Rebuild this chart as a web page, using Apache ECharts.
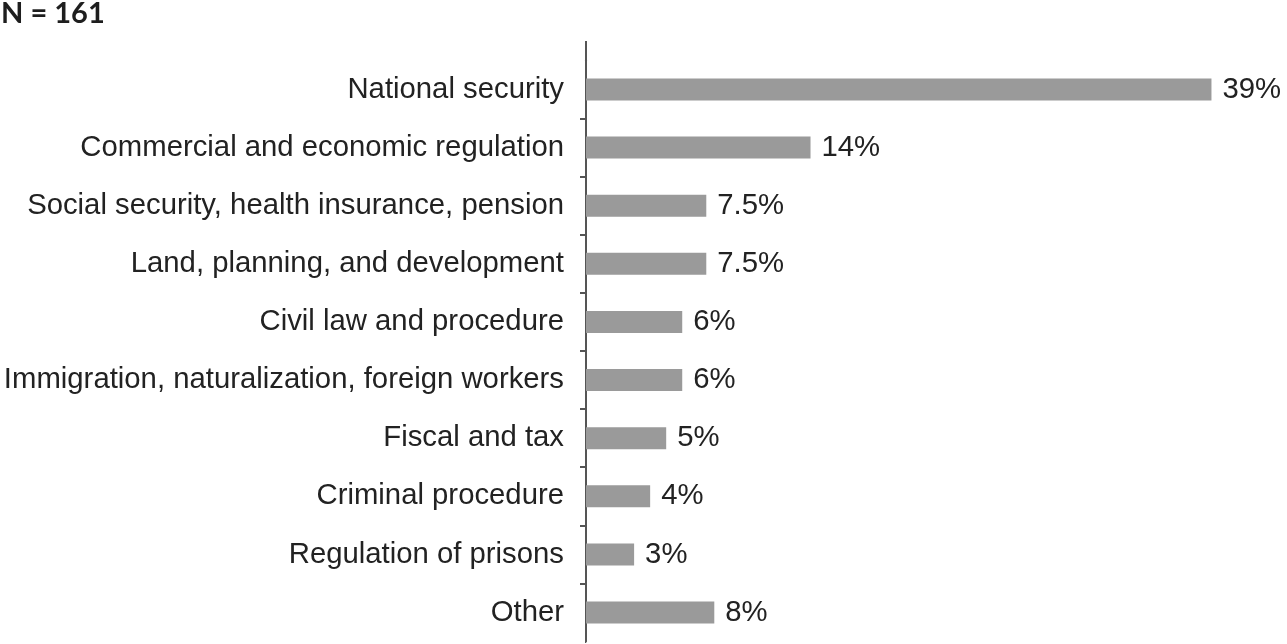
<!DOCTYPE html>
<html>
<head>
<meta charset="utf-8">
<script src="https://cdn.jsdelivr.net/npm/echarts@6/dist/echarts.min.js"></script>
<style>
html,body{margin:0;padding:0;background:#fff;}
#main{width:1287px;height:644px;}
</style>
</head>
<body>
<div id="main"></div>
<script>
const categories = [
  'National security',
  'Commercial and economic regulation',
  'Social security, health insurance, pension',
  'Land, planning, and development',
  'Civil law and procedure',
  'Immigration, naturalization, foreign workers',
  'Fiscal and tax',
  'Criminal procedure',
  'Regulation of prisons',
  'Other'
];
const values = [39, 14, 7.5, 7.5, 6, 6, 5, 4, 3, 8];
const titleText = 'N = 161';

const chart = echarts.init(document.getElementById('main'), null, {renderer: 'canvas'});
const axisColor = '#555555';
const textColor = '#222222';
const font = '"Liberation Sans", Arial, Helvetica, sans-serif';

chart.setOption({
  animation: false,
  backgroundColor: '#ffffff',
  title: {
    text: titleText,
    left: -4,
    top: -6,
    textStyle: {fontFamily: 'Lato, "Open Sans", sans-serif', fontWeight: 'bold', fontSize: 29, color: '#1e1e1e'}
  },
  grid: {left: 586, right: 59.5, top: 60.4, bottom: 2.4, containLabel: false, outerBoundsMode: 'none'},
  xAxis: {
    type: 'value',
    min: 0,
    max: 40,
    show: false
  },
  yAxis: {
    type: 'category',
    data: categories,
    inverse: true,
    axisLine: {show: true, lineStyle: {color: axisColor, width: 2}},
    axisTick: {show: true, length: 6, lineStyle: {color: axisColor, width: 2},
      interval: function (idx) { return idx !== 0; }},
    axisLabel: {margin: 22, color: textColor, fontSize: 29.3, fontFamily: font, padding: [0, 0, 6, 0]}
  },
  series: [{
    type: 'bar',
    data: values,
    barWidth: 22,
    itemStyle: {color: '#9a9a9a'},
    label: {
      show: true,
      position: 'right',
      distance: 11,
      color: textColor,
      fontSize: 29.3,
      fontFamily: font,
      formatter: function (p) { return p.value + '%'; }
    }
  }],
  graphic: [{
    type: 'line',
    shape: {x1: 586, y1: 41, x2: 586, y2: 61},
    style: {stroke: axisColor, lineWidth: 2}
  }, {
    type: 'rect',
    shape: {x: 576, y: 637, width: 9, height: 8},
    style: {fill: '#ffffff'},
    z: 100
  }]
});
</script>
</body>
</html>
